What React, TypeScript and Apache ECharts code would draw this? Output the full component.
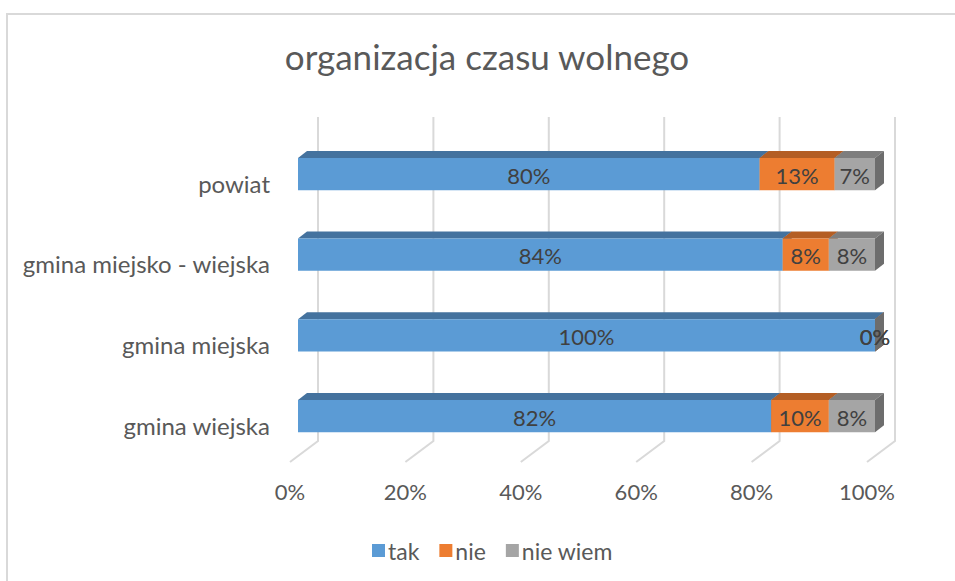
import React, { useEffect, useRef } from "react";
import * as echarts from "echarts";

const categories = ["powiat", "gmina miejsko - wiejska", "gmina miejska", "gmina wiejska"];
const takValues = [80, 84, 100, 82];
const nieValues = [13, 8, 0, 10];
const nieWiemValues = [7, 8, 0, 8];
const seriesNames = ["tak", "nie", "nie wiem"];
const xTicks = [0, 20, 40, 60, 80, 100];
const titleText = "organizacja czasu wolnego";

const FONT = "Lato";
const frontColors = ["#5B9BD5", "#ED7D31", "#A5A5A5"];
const topColors = ["#44729E", "#B45E24", "#7E7E7E"];
const sideColors = ["#3F6A93", "#A9561F", "#6D6D6D"];

export default function App() {
  const ref = useRef<HTMLDivElement>(null);
  useEffect(() => {
    if (!ref.current) return;
    const chart = echarts.init(ref.current, undefined, { renderer: "svg" });
    const all = [takValues, nieValues, nieWiemValues];
    const stacked = all.map((vals, si) =>
      vals.map((v, ci) => {
        let start = 0;
        for (let k = 0; k < si; k++) start += all[k][ci];
        return [start, start + v, ci, v];
      })
    );
    const DX = 9;
    const DY = 7;
    const makeRender = (si: number) => (params: any, api: any) => {
      const s = api.value(0);
      const e = api.value(1);
      const cat = api.value(2);
      const v = api.value(3);
      const p0 = api.coord([s, cat]);
      const p1 = api.coord([e, cat]);
      const band = api.size([0, 1])[1];
      const h = band * 0.4;
      const yT = p0[1] - h / 2;
      const yB = p0[1] + h / 2;
      const x0 = p0[0];
      const x1 = p1[0];
      return {
        type: "group",
        children: [
          {
            type: "polygon",
            shape: { points: [[x0, yT], [x0 + DX, yT - DY], [x1 + DX, yT - DY], [x1, yT]] },
            style: { fill: topColors[si] },
          },
          {
            type: "polygon",
            shape: { points: [[x1, yT], [x1 + DX, yT - DY], [x1 + DX, yB - DY], [x1, yB]] },
            style: { fill: sideColors[si] },
          },
          {
            type: "rect",
            shape: { x: x0, y: yT, width: x1 - x0, height: h },
            style: { fill: frontColors[si] },
          },
          {
            type: "text",
            x: (x0 + x1) / 2,
            y: p0[1] + 1,
            z2: 10,
            style: {
              text: v + "%",
              align: "center",
              verticalAlign: "middle",
              fill: "#404040",
              fontSize: 22,
              fontFamily: FONT,
            },
          },
        ],
      };
    };

    const option: any = {
      animation: false,
      backgroundColor: "#ffffff",
      graphic: [
        {
          type: "rect",
          z: -10,
          shape: { x: 7, y: 14, width: 1000, height: 600 },
          style: { fill: "none", stroke: "#D9D9D9", lineWidth: 2 },
        },
        {
          type: "text",
          x: 487,
          y: 56,
          style: {
            text: titleText,
            align: "center",
            verticalAlign: "middle",
            fill: "#595959",
            fontSize: 35,
            fontFamily: FONT,
          },
        },
      ],
      legend: {
        data: seriesNames,
        left: 367,
        top: 534,
        icon: "rect",
        itemWidth: 13,
        itemHeight: 13,
        itemGap: 20,
        textStyle: { color: "#595959", fontSize: 23, fontFamily: FONT, padding: [0, 0, 0, -2] },
      },
      grid: [
        { left: 298, width: 577, top: 133.7, height: 322.7 },
        { left: 318, width: 577, top: 117, height: 324 },
        { left: 290, width: 577, top: 462, height: 1 },
        { left: 298, width: 577, top: 142.7, height: 322.7 },
      ],
      xAxis: [
        { gridIndex: 0, type: "value", min: 0, max: 100, show: false },
        { gridIndex: 1, type: "value", min: 0, max: 100, interval: 20, show: false },
        {
          gridIndex: 2,
          type: "value",
          min: 0,
          max: 100,
          interval: 20,
          axisLine: { show: false },
          axisTick: { show: false },
          splitLine: { show: false },
          axisLabel: {
            formatter: "{value}%",
            color: "#595959",
            fontSize: 22,
            fontFamily: FONT,
            margin: 17,
          },
        },
        { gridIndex: 3, type: "value", min: 0, max: 100, show: false },
      ],
      yAxis: [
        { gridIndex: 0, type: "category", data: categories, inverse: true, show: false },
        { gridIndex: 1, type: "value", min: 0, max: 1, show: false },
        { gridIndex: 2, type: "value", min: 0, max: 1, show: false },
        {
          gridIndex: 3,
          type: "category",
          data: categories,
          inverse: true,
          axisLine: { show: false },
          axisTick: { show: false },
          splitLine: { show: false },
          axisLabel: {
            color: "#595959",
            fontSize: 24,
            fontFamily: FONT,
            margin: 28,
          },
        },
      ],
      series: [
        {
          type: "custom",
          name: "grid",
          xAxisIndex: 1,
          yAxisIndex: 1,
          data: xTicks.map((t) => [t]),
          silent: true,
          z: 0,
          renderItem: (params: any, api: any) => {
            const t = api.value(0);
            const top = api.coord([t, 1]);
            const bot = api.coord([t, 0]);
            return {
              type: "polyline",
              shape: { points: [top, bot, [bot[0] - 28, bot[1] + 21]] },
              style: { stroke: "#D9D9D9", lineWidth: 2, fill: "none" },
            };
          },
        },
        ...seriesNames.map((name, si) => ({
          type: "custom",
          name,
          xAxisIndex: 0,
          yAxisIndex: 0,
          z: 2,
          itemStyle: { color: frontColors[si] },
          encode: { x: [0, 1], y: 2 },
          data: stacked[si],
          renderItem: makeRender(si),
        })),
      ],
    };
    chart.setOption(option);
    return () => chart.dispose();
  }, []);
  return (
    <div
      ref={ref}
      style={{ position: "fixed", left: 0, top: 0, width: 955, height: 581, background: "#fff" }}
    />
  );
}
